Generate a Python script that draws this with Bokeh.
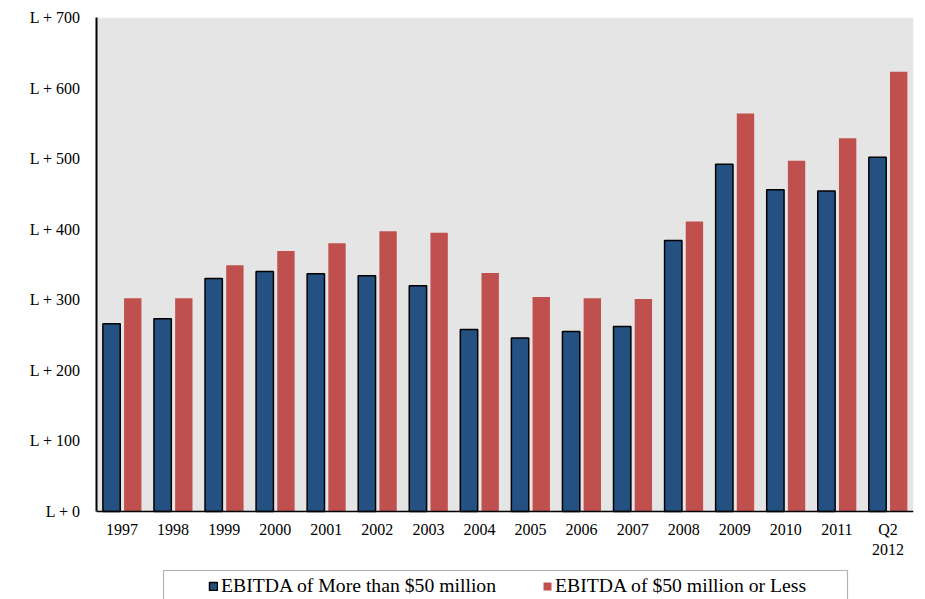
from bokeh.plotting import figure
from bokeh.models import (FactorRange, Range1d, FixedTicker, Legend, LegendItem,
                          BoxAnnotation, ColumnDataSource)
from bokeh.transform import dodge
from bokeh.embed import file_html
from bokeh.resources import INLINE

categories = ["1997", "1998", "1999", "2000", "2001", "2002", "2003", "2004",
              "2005", "2006", "2007", "2008", "2009", "2010", "2011", "Q2\n2012"]
ebitda_more_50 = [266, 273, 330, 340, 337, 334, 320, 258, 246, 255, 262, 384, 492, 456, 454, 502]
ebitda_50_less = [302, 302, 349, 369, 380, 397, 395, 338, 304, 302, 301, 411, 564, 497, 529, 623]
y_ticks = [0, 100, 200, 300, 400, 500, 600, 700]
y_tick_labels = ["L + 0", "L + 100", "L + 200", "L + 300", "L + 400", "L + 500", "L + 600", "L + 700"]
series_names = ["EBITDA of More than $50 million", "EBITDA of $50 million or Less"]

FONT = "Liberation Serif"
BLUE = "#245082"
RED = "#C0504D"
GRAY = "#E5E5E5"

# layout in pixels
W, H = 917, 599
LEFT, TOP, RIGHT = 96, 17, 4
AXIS_Y = 511                      # pixel row of the value 0
Y_MAX = 700
px_per_unit = (AXIS_Y - TOP) / Y_MAX
y_start = -(H - AXIS_Y) / px_per_unit   # frame continues below the axis for the legend

src = ColumnDataSource(dict(cat=categories, a=ebitda_more_50, b=ebitda_50_less))

p = figure(x_range=FactorRange(*categories), y_range=Range1d(y_start, Y_MAX),
           width=W, height=H, output_backend="svg", toolbar_location=None,
           min_border_left=LEFT, min_border_right=RIGHT, min_border_top=TOP,
           min_border_bottom=0)

p.background_fill_color = "white"
p.border_fill_color = "white"
p.outline_line_color = None
p.xgrid.grid_line_color = None
p.ygrid.grid_line_color = None

# gray plot area (from 0 up to the top)
p.add_layout(BoxAnnotation(bottom=0, top=Y_MAX, fill_color=GRAY, fill_alpha=1,
                           line_color=None, level="underlay"))

r1 = p.vbar(x=dodge("cat", -0.205, range=p.x_range), top="a", width=0.34, source=src,
            fill_color=BLUE, line_color="black", line_width=1.5)
r2 = p.vbar(x=dodge("cat", 0.21, range=p.x_range), top="b", width=0.34, source=src,
            fill_color=RED, line_color=None)

# axes
p.yaxis.ticker = FixedTicker(ticks=y_ticks)
p.yaxis.major_label_overrides = {t: l for t, l in zip(y_ticks, y_tick_labels)}
p.yaxis.bounds = (0, Y_MAX)
p.xaxis.fixed_location = 0
for ax in (p.xaxis[0], p.yaxis[0]):
    ax.major_tick_line_color = None
    ax.minor_tick_line_color = None
    ax.major_tick_out = 0
    ax.major_tick_in = 0
    ax.axis_line_color = "black"
    ax.major_label_text_font = FONT
    ax.major_label_text_font_size = "16px"
    ax.major_label_text_color = "black"
p.yaxis.axis_line_width = 2
p.xaxis.axis_line_width = 1.5
p.yaxis.major_label_standoff = 16
p.xaxis.major_label_standoff = 9

# legend
legend = Legend(items=[LegendItem(label=series_names[0], renderers=[r1]),
                       LegendItem(label=series_names[1], renderers=[r2])],
                location=(208 - LEFT, H - 597), orientation="horizontal",
                border_line_color=None, background_fill_alpha=0,
                padding=0, margin=0, spacing=46,
                glyph_width=10, glyph_height=10, label_standoff=3,
                label_text_font=FONT, label_text_font_size="19.7px",
                label_text_color="black")
p.add_layout(legend, "center")

p.add_layout(BoxAnnotation(left=163, right=847, top=570, bottom=H + 20,
                           left_units="canvas", right_units="canvas",
                           top_units="canvas", bottom_units="canvas",
                           fill_alpha=0, line_color="black", line_width=1.2))

open("out.html", "w").write(file_html(p, INLINE))
